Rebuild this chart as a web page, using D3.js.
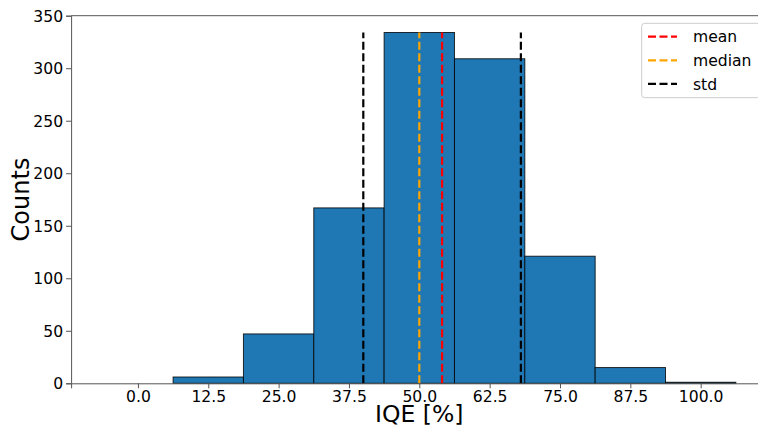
<!DOCTYPE html>
<html><head><meta charset="utf-8">
<script src="https://cdn.jsdelivr.net/npm/d3@7"></script>
<style>body{margin:0;background:#fff;} text{font-family:"DejaVu Sans",sans-serif;}</style>
</head><body>
<svg id="c" width="758" height="427"></svg>
<script>
const binCenters = [0, 12.5, 25, 37.5, 50, 62.5, 75, 87.5, 100];
const counts = [0, 6, 47, 167, 334, 309, 121, 15, 1];
const binWidth = 12.5;
const xTicks = [0, 12.5, 25, 37.5, 50, 62.5, 75, 87.5, 100];
const yTicks = [0, 50, 100, 150, 200, 250, 300, 350];
const meanVal = 54.05, medianVal = 50.0, stdVal = 14.0;
const vlines = [
  {x: meanVal, color: "red", label: "mean"},
  {x: medianVal, color: "orange", label: "median"},
  {x: meanVal - stdVal, color: "black", label: "std"},
  {x: meanVal + stdVal, color: "black", label: null}
];
const legendItems = [
  {label: "mean", color: "red"},
  {label: "median", color: "orange"},
  {label: "std", color: "black"}
];

const svg = d3.select("#c");
const L = 71.1, R = 767.5, T = 15.7, B = 383.3;
const x = d3.scaleLinear().domain([-11.875, 111.875]).range([L, R]);
const y = d3.scaleLinear().domain([0, 350]).range([B, T]);
const maxC = d3.max(counts);

// bars
svg.append("g").selectAll("rect").data(binCenters).join("rect")
  .attr("x", d => x(d - binWidth/2))
  .attr("width", d => x(d + binWidth/2) - x(d - binWidth/2))
  .attr("y", (d,i) => y(counts[i]))
  .attr("height", (d,i) => y(0) - y(counts[i]))
  .attr("fill", "#1f77b4")
  .attr("stroke", "#000")
  .attr("stroke-opacity", 0.8)
  .attr("stroke-width", 1);

// vertical lines
svg.append("g").selectAll("line").data(vlines).join("line")
  .attr("x1", d => x(d.x)).attr("x2", d => x(d.x))
  .attr("y1", y(0)).attr("y2", y(maxC))
  .attr("stroke", d => d.color)
  .attr("stroke-width", 2.2)
  .attr("stroke-dasharray", "8,3.5");

// axes
const fs = 15.6;
const xAxis = svg.append("g").attr("transform", `translate(0,${B})`)
  .call(d3.axisBottom(x).tickValues(xTicks).tickFormat(d3.format(".1f")).tickSize(5).tickPadding(3));
const yAxis = svg.append("g").attr("transform", `translate(${L},0)`)
  .call(d3.axisLeft(y).tickValues(yTicks).tickFormat(d3.format("d")).tickSize(5).tickPadding(3));
[xAxis, yAxis].forEach(a => {
  a.selectAll("text").attr("font-size", fs).attr("font-family", "DejaVu Sans").attr("fill", "#000");
  a.selectAll("line").attr("stroke", "#555");
  a.select(".domain").attr("stroke", "#555");
});
yAxis.selectAll("text").attr("dy", "0.36em");
// top spine
svg.append("line").attr("x1", L).attr("x2", R).attr("y1", T).attr("y2", T).attr("stroke", "#555");

// axis labels
svg.append("text").attr("x", 419.3).attr("y", 421.5)
  .attr("text-anchor", "middle").attr("font-size", 23.5).text("IQE [%]");
svg.append("text").attr("transform", `translate(29,${(T+B)/2}) rotate(-90)`)
  .attr("text-anchor", "middle").attr("font-size", 24).text("Counts");

// legend
const lg = svg.append("g");
lg.append("rect").attr("x", 641.7).attr("y", 23.3).attr("width", 118).attr("height", 74.4)
  .attr("rx", 3).attr("fill", "#fff").attr("fill-opacity", 0.8).attr("stroke", "#ccc");
legendItems.forEach((d, i) => {
  const yy = 36.7 + i * 23.6;
  lg.append("line").attr("x1", 648).attr("x2", 677).attr("y1", yy).attr("y2", yy)
    .attr("stroke", d.color).attr("stroke-width", 2.2).attr("stroke-dasharray", "8,3.5");
  lg.append("text").attr("x", 693).attr("y", yy).attr("dy", "0.36em")
    .attr("font-size", fs).text(d.label);
});
</script>
</body></html>
